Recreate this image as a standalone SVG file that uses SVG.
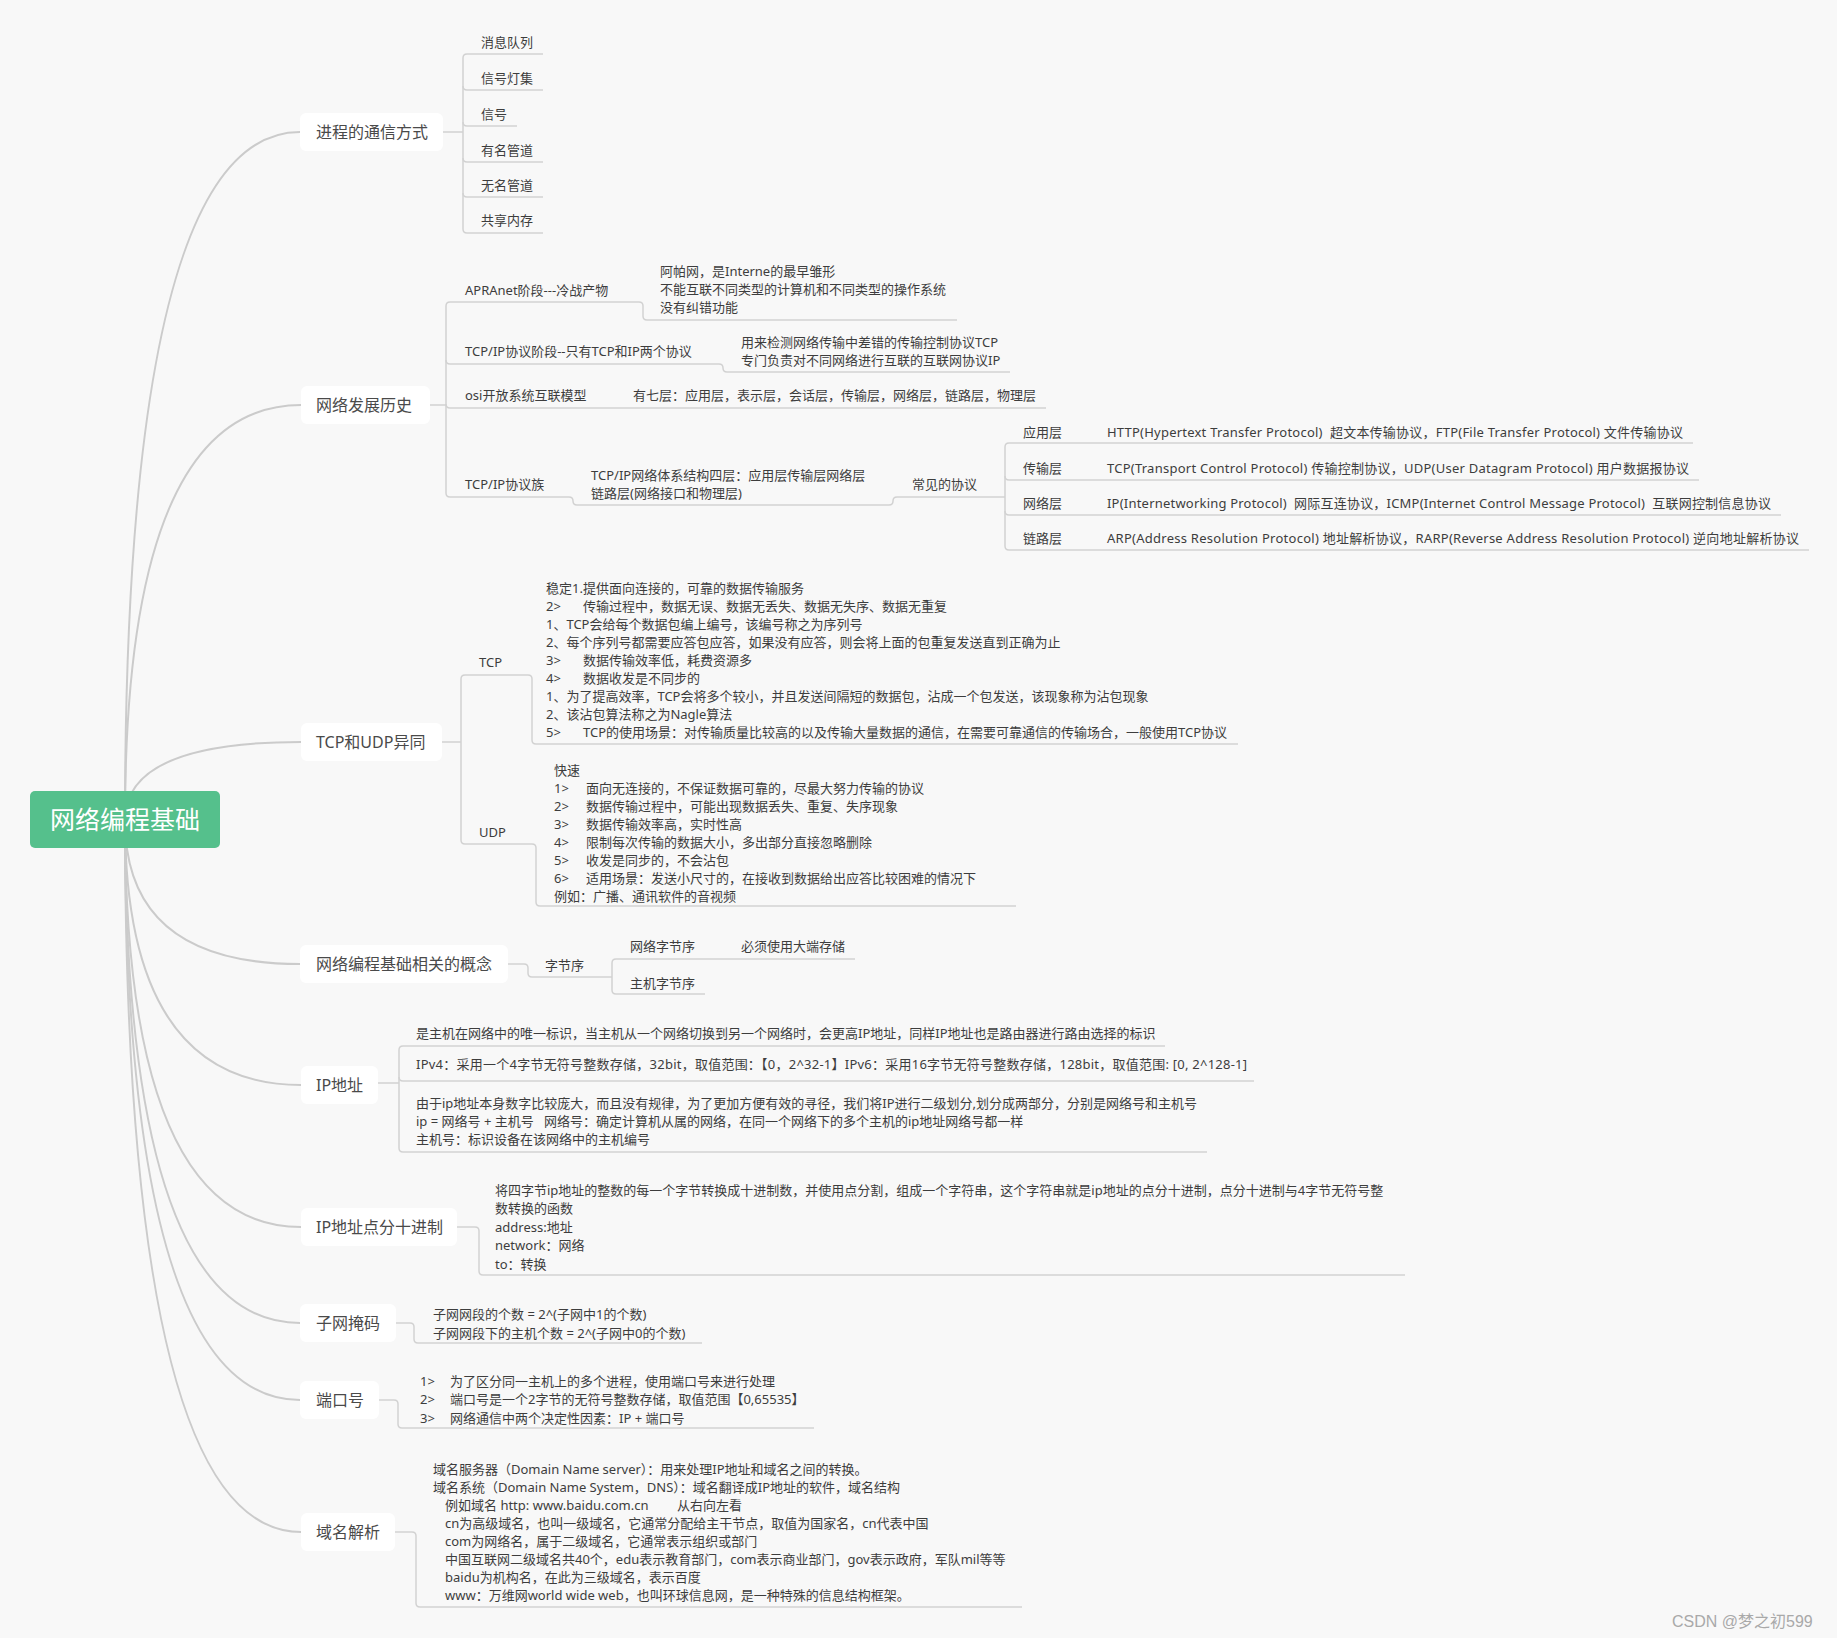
<svg xmlns="http://www.w3.org/2000/svg" width="1837" height="1638" viewBox="0 0 1837 1638">
<style>
text{font-family:"Noto Sans","Noto Sans CJK SC",sans-serif;}
.lbl{font-size:16px;fill:#4a4a4a}
.t{font-size:13px;fill:#3d3d3d}
.root{font-size:25px;fill:#ffffff}
.box{fill:#ffffff}
.c{fill:none;stroke:#cbcbcb;stroke-width:2}
.l{fill:none;stroke:#d2d2d2;stroke-width:1.5}
.wm{font-size:16px;fill:#a9a9a9;font-family:"Liberation Sans","Noto Sans CJK SC",sans-serif}
</style>
<rect x="0" y="0" width="1837" height="1638" fill="#f8f8f8"/>
<g id="connectors">
<path class="c" d="M125,820 Q125,132 300,132"/>
<path class="c" d="M125,820 Q125,405 301,405"/>
<path class="c" d="M125,820 Q125,742 301,742"/>
<path class="c" d="M125,820 Q125,964 300,964"/>
<path class="c" d="M125,820 Q125,1085 301,1085"/>
<path class="c" d="M125,820 Q125,1227 301,1227"/>
<path class="c" d="M125,820 Q125,1323 300,1323"/>
<path class="c" d="M125,820 Q125,1400 300,1400"/>
<path class="c" d="M125,820 Q125,1532 301,1532"/>
<path class="l" d="M443,132 H463"/>
<path class="l" d="M463,58 V229"/>
<path class="l" d="M463,58 Q463,54 467,54 H543"/>
<path class="l" d="M463,86 Q463,90 467,90 H543"/>
<path class="l" d="M463,122 Q463,126 467,126 H517"/>
<path class="l" d="M463,158 Q463,162 467,162 H543"/>
<path class="l" d="M463,193 Q463,197 467,197 H543"/>
<path class="l" d="M463,229 Q463,233 467,233 H543"/>
<path class="l" d="M430,405 H446"/>
<path class="l" d="M446,306 V493"/>
<path class="l" d="M446,306 Q446,302 450,302 H639 Q643,302 643,306 V316 Q643,320 647,320 H957"/>
<path class="l" d="M446,360 Q446,364 450,364 H719 Q723,364 723,368 Q723,372 727,372 H1010"/>
<path class="l" d="M446,404 Q446,408 450,408 H1046"/>
<path class="l" d="M446,493 Q446,497 450,497 H569 Q573,497 573,501 Q573,505 577,505 H889 Q893,505 893,501 Q893,497 897,497 H1005"/>
<path class="l" d="M1005,447 V546"/>
<path class="l" d="M1005,447 Q1005,443 1009,443 H1693"/>
<path class="l" d="M1005,476 Q1005,480 1009,480 H1699"/>
<path class="l" d="M1005,511 Q1005,515 1009,515 H1781"/>
<path class="l" d="M1005,546 Q1005,550 1009,550 H1809"/>
<path class="l" d="M442,742 H461"/>
<path class="l" d="M461,679 V840"/>
<path class="l" d="M461,679 Q461,675 465,675 H528 Q532,675 532,679 V740 Q532,744 536,744 H1238"/>
<path class="l" d="M461,840 Q461,844 465,844 H532 Q536,844 536,848 V902 Q536,906 540,906 H1016"/>
<path class="l" d="M508,964 H524 Q528,964 528,968 V973 Q528,977 532,977 H612"/>
<path class="l" d="M612,963 V990"/>
<path class="l" d="M612,963 Q612,959 616,959 H855"/>
<path class="l" d="M612,990 Q612,994 616,994 H705"/>
<path class="l" d="M378,1083 H399"/>
<path class="l" d="M399,1050 V1148"/>
<path class="l" d="M399,1050 Q399,1046 403,1046 H1165"/>
<path class="l" d="M399,1077 Q399,1081 403,1081 H1254"/>
<path class="l" d="M399,1148 Q399,1152 403,1152 H1207"/>
<path class="l" d="M457,1227 H475 Q479,1227 479,1231 V1271 Q479,1275 483,1275 H1405"/>
<path class="l" d="M396,1323 H410 Q414,1323 414,1327 V1339 Q414,1343 418,1343 H702"/>
<path class="l" d="M379,1400 H394 Q398,1400 398,1404 V1424 Q398,1428 402,1428 H814"/>
<path class="l" d="M395,1532 H412 Q416,1532 416,1536 V1603 Q416,1607 420,1607 H1022"/>
</g>
<g id="root">
<rect x="30" y="791" width="190" height="57" rx="5" fill="#55c08c"/>
<text class="root" x="125" y="829" text-anchor="middle">网络编程基础</text>
</g>
<g id="n-process">
<rect class="box" x="300" y="113" width="143" height="38" rx="6"/>
<text class="lbl" x="316" y="138">进程的通信方式</text>
<text class="t" x="481" y="47">消息队列</text>
<text class="t" x="481" y="83">信号灯集</text>
<text class="t" x="481" y="119">信号</text>
<text class="t" x="481" y="155">有名管道</text>
<text class="t" x="481" y="190">无名管道</text>
<text class="t" x="481" y="225">共享内存</text>
</g>
<g id="n-history">
<rect class="box" x="301" y="386" width="129" height="38" rx="6"/>
<text class="lbl" x="316" y="411">网络发展历史</text>
<text class="t" x="465" y="295">APRAnet阶段---冷战产物</text>
<text class="t" x="660" y="276">阿帕网，是Interne的最早雏形</text>
<text class="t" x="660" y="294">不能互联不同类型的计算机和不同类型的操作系统</text>
<text class="t" x="660" y="312">没有纠错功能</text>
<text class="t" x="465" y="356">TCP/IP协议阶段--只有TCP和IP两个协议</text>
<text class="t" x="741" y="347">用来检测网络传输中差错的传输控制协议TCP</text>
<text class="t" x="741" y="365">专门负责对不同网络进行互联的互联网协议IP</text>
<text class="t" x="465" y="400">osi开放系统互联模型</text>
<text class="t" x="633" y="400">有七层：应用层，表示层，会话层，传输层，网络层，链路层，物理层</text>
<text class="t" x="465" y="489">TCP/IP协议族</text>
<text class="t" x="591" y="480">TCP/IP网络体系结构四层：应用层传输层网络层</text>
<text class="t" x="591" y="498">链路层(网络接口和物理层)</text>
<text class="t" x="912" y="489">常见的协议</text>
<text class="t" x="1023" y="437">应用层</text>
<text class="t" x="1107" y="437" xml:space="preserve" textLength="576" lengthAdjust="spacing">HTTP(Hypertext Transfer Protocol)  超文本传输协议，FTP(File Transfer Protocol) 文件传输协议</text>
<text class="t" x="1023" y="473">传输层</text>
<text class="t" x="1107" y="473" xml:space="preserve" textLength="582" lengthAdjust="spacing">TCP(Transport Control Protocol) 传输控制协议，UDP(User Datagram Protocol) 用户数据报协议</text>
<text class="t" x="1023" y="508">网络层</text>
<text class="t" x="1107" y="508" xml:space="preserve" textLength="664" lengthAdjust="spacing">IP(Internetworking Protocol)  网际互连协议，ICMP(Internet Control Message Protocol)  互联网控制信息协议</text>
<text class="t" x="1023" y="543">链路层</text>
<text class="t" x="1107" y="543" xml:space="preserve" textLength="692" lengthAdjust="spacing">ARP(Address Resolution Protocol) 地址解析协议，RARP(Reverse Address Resolution Protocol) 逆向地址解析协议</text>
</g>
<g id="n-tcpudp">
<rect class="box" x="301" y="723" width="141" height="38" rx="6"/>
<text class="lbl" x="316" y="748">TCP和UDP异同</text>
<text class="t" x="479" y="667">TCP</text>
<text class="t" x="546" y="593">稳定1.提供面向连接的，可靠的数据传输服务</text>
<text class="t" x="546" y="611">2&gt;<tspan x="583">传输过程中，数据无误、数据无丢失、数据无失序、数据无重复</tspan></text>
<text class="t" x="546" y="629">1、TCP会给每个数据包编上编号，该编号称之为序列号</text>
<text class="t" x="546" y="647">2、每个序列号都需要应答包应答，如果没有应答，则会将上面的包重复发送直到正确为止</text>
<text class="t" x="546" y="665">3&gt;<tspan x="583">数据传输效率低，耗费资源多</tspan></text>
<text class="t" x="546" y="683">4&gt;<tspan x="583">数据收发是不同步的</tspan></text>
<text class="t" x="546" y="701">1、为了提高效率，TCP会将多个较小，并且发送间隔短的数据包，沾成一个包发送，该现象称为沾包现象</text>
<text class="t" x="546" y="719">2、该沾包算法称之为Nagle算法</text>
<text class="t" x="546" y="737">5&gt;<tspan x="583">TCP的使用场景：对传输质量比较高的以及传输大量数据的通信，在需要可靠通信的传输场合，一般使用TCP协议</tspan></text>
<text class="t" x="479" y="837">UDP</text>
<text class="t" x="554" y="775">快速</text>
<text class="t" x="554" y="793">1&gt;<tspan x="586">面向无连接的，不保证数据可靠的，尽最大努力传输的协议</tspan></text>
<text class="t" x="554" y="811">2&gt;<tspan x="586">数据传输过程中，可能出现数据丢失、重复、失序现象</tspan></text>
<text class="t" x="554" y="829">3&gt;<tspan x="586">数据传输效率高，实时性高</tspan></text>
<text class="t" x="554" y="847">4&gt;<tspan x="586">限制每次传输的数据大小，多出部分直接忽略删除</tspan></text>
<text class="t" x="554" y="865">5&gt;<tspan x="586">收发是同步的，不会沾包</tspan></text>
<text class="t" x="554" y="883">6&gt;<tspan x="586">适用场景：发送小尺寸的，在接收到数据给出应答比较困难的情况下</tspan></text>
<text class="t" x="554" y="901">例如：广播、通讯软件的音视频</text>
</g>
<g id="n-concept">
<rect class="box" x="300" y="945" width="208" height="38" rx="6"/>
<text class="lbl" x="316" y="970" textLength="176" lengthAdjust="spacingAndGlyphs">网络编程基础相关的概念</text>
<text class="t" x="545" y="970">字节序</text>
<text class="t" x="630" y="951">网络字节序</text>
<text class="t" x="741" y="951">必须使用大端存储</text>
<text class="t" x="630" y="988">主机字节序</text>
</g>
<g id="n-ip">
<rect class="box" x="301" y="1066" width="77" height="38" rx="6"/>
<text class="lbl" x="316" y="1091">IP地址</text>
<text class="t" x="416" y="1038">是主机在网络中的唯一标识，当主机从一个网络切换到另一个网络时，会更高IP地址，同样IP地址也是路由器进行路由选择的标识</text>
<text class="t" x="416" y="1069" textLength="831" lengthAdjust="spacing">IPv4：采用一个4字节无符号整数存储，32bit，取值范围：【0，2^32-1】IPv6：采用16字节无符号整数存储，128bit，取值范围: [0, 2^128-1]</text>
<text class="t" x="416" y="1108">由于ip地址本身数字比较庞大，而且没有规律，为了更加方便有效的寻径，我们将IP进行二级划分,划分成两部分，分别是网络号和主机号</text>
<text class="t" x="416" y="1126" xml:space="preserve">ip = 网络号 + 主机号   网络号：确定计算机从属的网络，在同一个网络下的多个主机的ip地址网络号都一样</text>
<text class="t" x="416" y="1144">主机号：标识设备在该网络中的主机编号</text>
</g>
<g id="n-dotted">
<rect class="box" x="301" y="1208" width="156" height="38" rx="6"/>
<text class="lbl" x="316" y="1233">IP地址点分十进制</text>
<text class="t" x="495" y="1195">将四字节ip地址的整数的每一个字节转换成十进制数，并使用点分割，组成一个字符串，这个字符串就是ip地址的点分十进制，点分十进制与4字节无符号整</text>
<text class="t" x="495" y="1213">数转换的函数</text>
<text class="t" x="495" y="1232">address:地址</text>
<text class="t" x="495" y="1250">network：网络</text>
<text class="t" x="495" y="1269">to：转换</text>
</g>
<g id="n-subnet">
<rect class="box" x="300" y="1304" width="96" height="38" rx="6"/>
<text class="lbl" x="316" y="1329">子网掩码</text>
<text class="t" x="433" y="1319">子网网段的个数 = 2^(子网中1的个数)</text>
<text class="t" x="433" y="1338">子网网段下的主机个数 = 2^(子网中0的个数)</text>
</g>
<g id="n-port">
<rect class="box" x="300" y="1381" width="79" height="38" rx="6"/>
<text class="lbl" x="316" y="1406">端口号</text>
<text class="t" x="420" y="1386">1&gt;<tspan x="450">为了区分同一主机上的多个进程，使用端口号来进行处理</tspan></text>
<text class="t" x="420" y="1404">2&gt;<tspan x="450">端口号是一个2字节的无符号整数存储，取值范围【0,65535】</tspan></text>
<text class="t" x="420" y="1423">3&gt;<tspan x="450">网络通信中两个决定性因素：IP + 端口号</tspan></text>
</g>
<g id="n-dns">
<rect class="box" x="301" y="1513" width="94" height="38" rx="6"/>
<text class="lbl" x="316" y="1538">域名解析</text>
<text class="t" x="433" y="1474">域名服务器（Domain Name server）：用来处理IP地址和域名之间的转换。</text>
<text class="t" x="433" y="1492">域名系统（Domain Name System，DNS）：域名翻译成IP地址的软件，域名结构</text>
<text class="t" x="445" y="1510">例如域名 http: www.baidu.com.cn<tspan x="677">从右向左看</tspan></text>
<text class="t" x="445" y="1528">cn为高级域名，也叫一级域名，它通常分配给主干节点，取值为国家名，cn代表中国</text>
<text class="t" x="445" y="1546">com为网络名，属于二级域名，它通常表示组织或部门</text>
<text class="t" x="445" y="1564">中国互联网二级域名共40个，edu表示教育部门，com表示商业部门，gov表示政府，军队mil等等</text>
<text class="t" x="445" y="1582">baidu为机构名，在此为三级域名，表示百度</text>
<text class="t" x="445" y="1600">www：万维网world wide web，也叫环球信息网，是一种特殊的信息结构框架。</text>
</g>
<text class="wm" x="1672" y="1627">CSDN @梦之初599</text>
</svg>
